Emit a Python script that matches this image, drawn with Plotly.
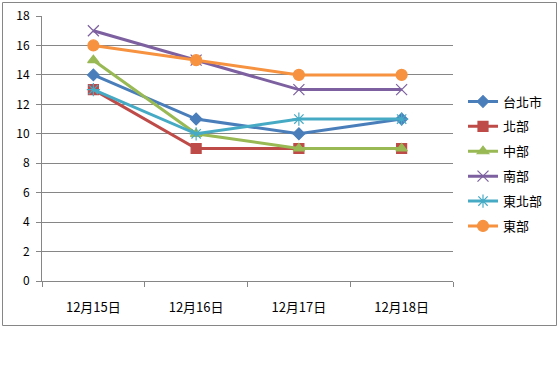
import plotly.graph_objects as go

categories = ["12月15日", "12月16日", "12月17日", "12月18日"]
series_names = ["台北市", "北部", "中部", "南部", "東北部", "東部"]
taipei = [14, 11, 10, 11]
north = [13, 9, 9, 9]
central = [15, 10, 9, 9]
south = [17, 15, 13, 13]
northeast = [13, 10, 11, 11]
east = [16, 15, 14, 14]
y_ticks = [0, 2, 4, 6, 8, 10, 12, 14, 16, 18]

values = [taipei, north, central, south, northeast, east]
colors = ["#4A7EBB", "#BE4B48", "#98B954", "#7D60A0", "#46AAC5", "#F69240"]
symbols = ["diamond", "square", "triangle-up", "x-thin-open", "asterisk-open", "circle"]
sizes = [9, 10, 10, 11, 11, 11]

FONT = "Noto Sans CJK TC"
fig = go.Figure()
for i, (name, vals) in enumerate(zip(series_names, values)):
    fig.add_trace(go.Scatter(
        x=categories, y=vals, name=name, mode="lines+markers",
        legendgroup=name,
        line=dict(color=colors[i], width=3),
        marker=dict(symbol=symbols[i], size=sizes[i], color=colors[i],
                    line=dict(color=colors[i], width=1.2)),
    ))

L, R, T, B = 42, 453, 16, 281
W, H = 559, 384

def px_x(p):
    return (p - L) / (R - L)

def px_y(p):
    return (B - p) / (B - T)

fig.update_layout(
    width=W, height=H,
    margin=dict(l=L, r=W - R, t=T, b=H - B, autoexpand=False),
    paper_bgcolor="white", plot_bgcolor="white",
    font=dict(family=FONT, size=12, color="black"),
    showlegend=True,
    legend=dict(x=px_x(463), y=px_y(164), xanchor="left", yanchor="middle",
                font=dict(family=FONT, size=13, color="black"),
                tracegroupgap=5, itemwidth=30, bgcolor="rgba(0,0,0,0)"),
    xaxis=dict(type="category", range=[-0.5, 3.5], showgrid=False,
               showline=True, linecolor="#868686", linewidth=1,
               ticks="outside", ticklen=5, tickcolor="#868686",
               tickson="boundaries", ticklabelstandoff=14, automargin=False,
               tickfont=dict(family=FONT, size=13)),
    yaxis=dict(range=[0, 18], tickvals=y_ticks, showgrid=True,
               gridcolor="#868686", gridwidth=1,
               showline=True, linecolor="#868686", linewidth=1,
               ticks="outside", ticklen=5, tickcolor="#868686",
               zeroline=False, ticklabelstandoff=4, automargin=False,
               tickfont=dict(family=FONT, size=12)),
    shapes=[dict(type="rect", xref="paper", yref="paper",
                 x0=px_x(2.5), x1=px_x(556.5), y0=px_y(2.5), y1=px_y(325.5),
                 line=dict(color="#868686", width=1), layer="below")],
)

fig.write_html("out.html", config={"displayModeBar": False},
               post_script="document.body.style.margin='0';document.body.style.overflow='hidden';")
